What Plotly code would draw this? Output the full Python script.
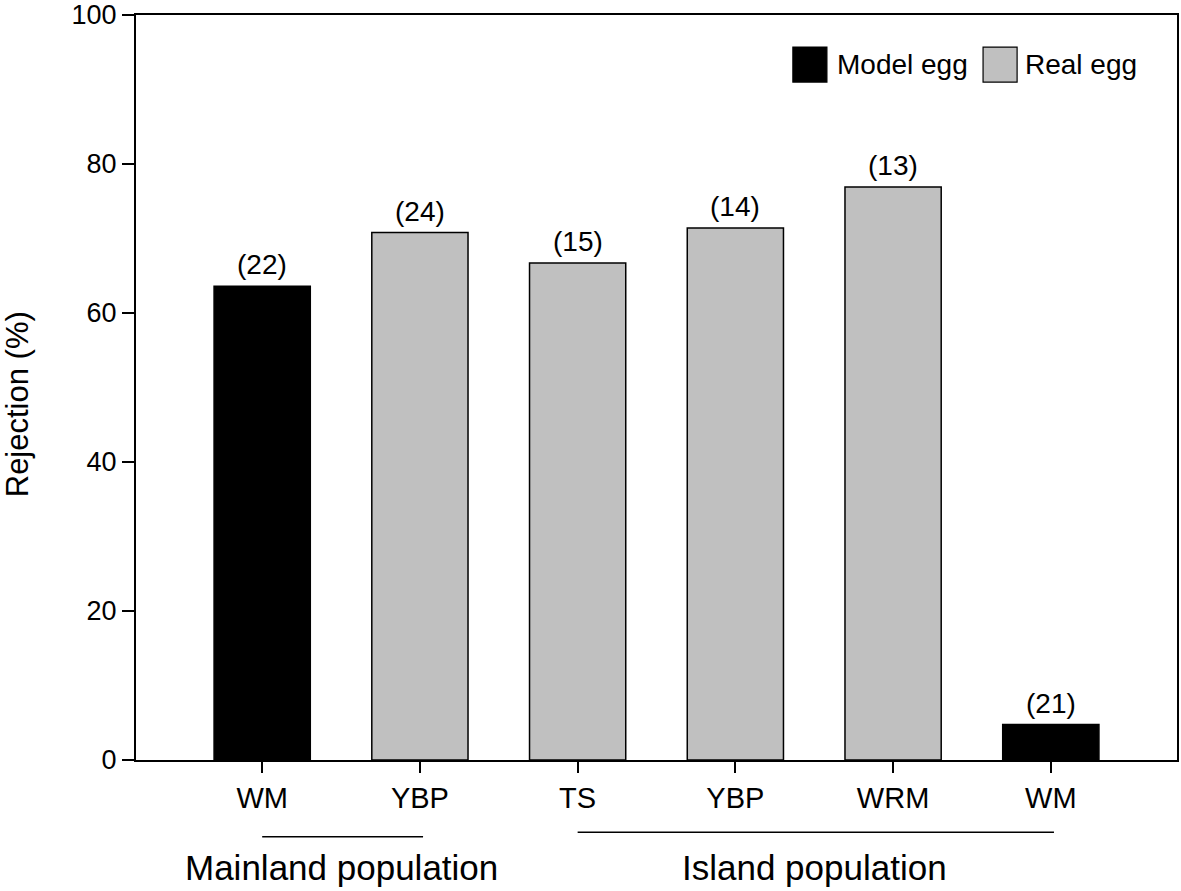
import plotly.graph_objects as go

# ---- data ----
categories = ["WM", "YBP", "TS", "YBP", "WRM", "WM"]
rejection = [63.6, 70.8, 66.7, 71.4, 76.9, 4.76]
egg_type = ["Model egg", "Real egg", "Real egg", "Real egg", "Real egg", "Model egg"]
sample_sizes = [22, 24, 15, 14, 13, 21]
groups = ["Mainland population", "Island population"]
group_members = [[0, 1], [2, 3, 4, 5]]
y_ticks = [0, 20, 40, 60, 80, 100]

FONT = "Liberation Sans, Arial, sans-serif"
colors = {"Model egg": "#000000", "Real egg": "#C0C0C0"}

positions = list(range(len(categories)))

fig = go.Figure()
for et in ["Model egg", "Real egg"]:
    xs = [p for p, t in zip(positions, egg_type) if t == et]
    ys = [v for v, t in zip(rejection, egg_type) if t == et]
    fig.add_trace(go.Bar(
        x=xs, y=ys, name=et, width=0.61,
        marker=dict(color=colors[et], line=dict(color="black", width=1.5)),
        showlegend=False,
    ))

annotations = []
# sample size labels
for p, v, n in zip(positions, rejection, sample_sizes):
    annotations.append(dict(x=p, y=v, xref="x", yref="y", text=f"({n})",
                            showarrow=False, yanchor="bottom", yshift=4,
                            font=dict(size=28, color="black", family=FONT)))

# y-axis title
annotations.append(dict(x=-0.113, y=0.478, xref="paper", yref="paper",
                        text="Rejection (%)", textangle=-90, showarrow=False,
                        xanchor="center", yanchor="middle",
                        font=dict(size=31, color="black", family=FONT)))

shapes = []
# group lines + labels
line_y = [-0.103, -0.097]
for g, members, ly in zip(groups, group_members, line_y):
    x0 = positions[members[0]]
    x1 = positions[members[-1]]
    shapes.append(dict(type="line", xref="x", yref="paper",
                       x0=x0, x1=x1 + 0.02, y0=ly, y1=ly,
                       line=dict(color="black", width=1.3)))
    annotations.append(dict(x=(x0 + x1) / 2, y=-0.144, xref="x", yref="paper",
                            text=g, showarrow=False, xanchor="center", yanchor="middle",
                            font=dict(size=35, color="black", family=FONT)))

# manual legend
legend_items = [("Model egg", 0.631, 0.6715), ("Real egg", 0.8137, 0.852)]
for name, sx, tx in legend_items:
    shapes.append(dict(type="rect", xref="paper", yref="paper",
                       x0=sx, x1=sx + 0.0327, y0=0.910, y1=0.957,
                       fillcolor=colors[name], line=dict(color="black", width=1.2)))
    annotations.append(dict(x=tx, y=0.934, xref="paper", yref="paper", text=name,
                            showarrow=False, xanchor="left", yanchor="middle",
                            font=dict(size=28, color="black", family=FONT)))

fig.update_layout(
    width=1181, height=891,
    margin=dict(l=136, r=4, t=15, b=131, autoexpand=False),
    paper_bgcolor="white", plot_bgcolor="white",
    font=dict(family=FONT, color="black", size=27),
    annotations=annotations, shapes=shapes,
    showlegend=False,
)
fig.update_xaxes(
    range=[-0.8, 5.8], tickmode="array", tickvals=positions, ticktext=categories,
    showline=True, linecolor="black", linewidth=2, mirror=True,
    ticks="outside", ticklen=11, tickwidth=1.5, tickcolor="black",
    showgrid=False, zeroline=False, tickfont=dict(size=29, family=FONT),
    automargin=False,
)
fig.update_yaxes(
    range=[0, 100], tickmode="array", tickvals=y_ticks,
    showline=True, linecolor="black", linewidth=2, mirror=True,
    ticks="outside", ticklen=12, tickwidth=1.5, tickcolor="black",
    showgrid=False, zeroline=False, tickfont=dict(size=27, family=FONT),
    ticklabeloverflow="allow", automargin=False,
)

fig.write_html("out.html", config={"displayModeBar": False},
               post_script="document.body.style.margin='0px';document.body.style.overflow='hidden';")
